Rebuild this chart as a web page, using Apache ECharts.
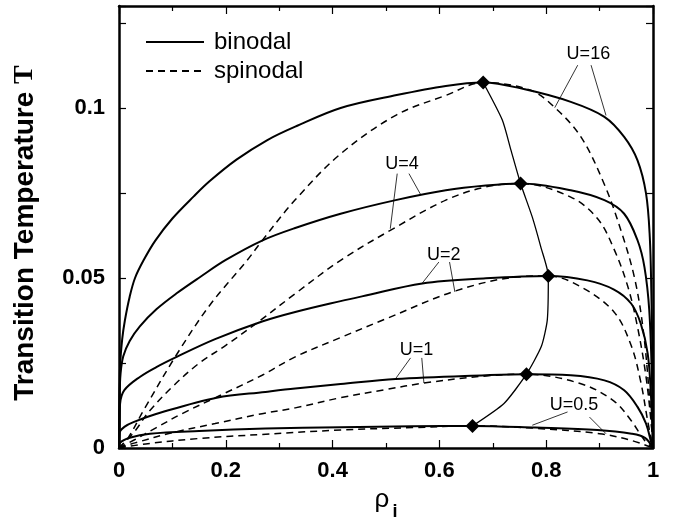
<!DOCTYPE html>
<html>
<head>
<meta charset="utf-8">
<title>Transition temperature</title>
<script src="https://cdn.jsdelivr.net/npm/echarts@6.0.0/dist/echarts.min.js"></script>
<style>
    html, body { margin: 0; padding: 0; background: #fff; }
    #chart { width: 673px; height: 520px; }
</style>
</head>
<body>
<div id="chart"></div>
<script>
// points are [rho_i, T]
var binodal16 = [[0, 0], [0.0008, 0.012], [0.002, 0.024], [0.006, 0.032], [0.011, 0.0375], [0.02, 0.0445],
    [0.03, 0.05], [0.046, 0.0552], [0.068, 0.061], [0.1, 0.0675], [0.14, 0.074], [0.17, 0.0785], [0.22, 0.0848],
    [0.277, 0.0905], [0.33, 0.0945], [0.415, 0.1], [0.52, 0.1038], [0.612, 0.1065], [0.682, 0.1075],
    [0.76, 0.1055], [0.846, 0.1018], [0.909, 0.0974], [0.946, 0.0915], [0.971, 0.0846], [0.987, 0.0748],
    [0.994, 0.062], [0.997, 0.045], [0.999, 0.025], [1, 0]];
var binodal4 = [[0, 0], [0.001, 0.015], [0.003, 0.022], [0.008, 0.027], [0.02, 0.0315], [0.039, 0.0358],
    [0.07, 0.0408], [0.108, 0.0455], [0.152, 0.0503], [0.2, 0.0553], [0.268, 0.061], [0.33, 0.0647],
    [0.415, 0.0689], [0.518, 0.0729], [0.612, 0.0758], [0.687, 0.0772], [0.752, 0.0778], [0.846, 0.0758],
    [0.909, 0.0729], [0.946, 0.0689], [0.971, 0.0611], [0.984, 0.0532], [0.993, 0.0405], [0.998, 0.02], [1, 0]];
var binodal2 = [[0, 0], [0.0008, 0.007], [0.002, 0.013], [0.01, 0.017], [0.039, 0.0209], [0.07, 0.0238],
    [0.108, 0.0268], [0.18, 0.032], [0.268, 0.0372], [0.33, 0.04], [0.415, 0.0432], [0.455, 0.0446],
    [0.568, 0.0484], [0.687, 0.0499], [0.804, 0.0506], [0.877, 0.0493], [0.927, 0.0466], [0.959, 0.0425],
    [0.977, 0.0366], [0.99, 0.0278], [0.996, 0.016], [1, 0]];
var binodal1 = [[0, 0], [0.001, 0.0045], [0.01, 0.0062], [0.027, 0.0076], [0.08, 0.0105], [0.183, 0.0148],
    [0.274, 0.0165], [0.33, 0.0175], [0.415, 0.0188], [0.518, 0.0203], [0.687, 0.0214], [0.763, 0.0217],
    [0.846, 0.0214], [0.909, 0.0199], [0.946, 0.017], [0.971, 0.0121], [0.987, 0.0072], [0.996, 0.002], [1, 0]];
var binodal05 = [[0, 0], [0.002, 0.0015], [0.02, 0.003], [0.058, 0.0042], [0.15, 0.005], [0.274, 0.0057],
    [0.415, 0.0061], [0.55, 0.0064], [0.662, 0.0065], [0.78, 0.006], [0.896, 0.0053], [0.96, 0.0042],
    [0.985, 0.003], [1, 0]];

var spinodal16 = [[0, 0], [0.018, 0.0032], [0.046, 0.0111], [0.108, 0.0275], [0.17, 0.042], [0.24, 0.0552],
    [0.268, 0.061], [0.33, 0.073], [0.415, 0.0865], [0.52, 0.098], [0.612, 0.1037], [0.682, 0.1075],
    [0.771, 0.1052], [0.815, 0.1003], [0.865, 0.0915], [0.909, 0.0775], [0.94, 0.064], [0.965, 0.0503],
    [0.981, 0.0356], [0.993, 0.016], [1, 0]];
var spinodal4 = [[0, 0], [0.03, 0.005], [0.055, 0.0105], [0.1, 0.018], [0.149, 0.0248], [0.2, 0.0302],
    [0.261, 0.0371], [0.33, 0.0454], [0.415, 0.0552], [0.508, 0.064], [0.612, 0.0729], [0.687, 0.0768],
    [0.752, 0.0778], [0.846, 0.0738], [0.896, 0.0675], [0.927, 0.0585], [0.953, 0.0474], [0.971, 0.0356],
    [0.987, 0.0209], [0.998, 0.005], [1, 0]];
var spinodal2 = [[0, 0], [0.03, 0.0025], [0.07, 0.006], [0.118, 0.0101], [0.19, 0.0155], [0.268, 0.0214],
    [0.33, 0.0268], [0.415, 0.0325], [0.5, 0.038], [0.63, 0.0462], [0.746, 0.0503], [0.804, 0.0506],
    [0.865, 0.0474], [0.927, 0.04], [0.959, 0.0302], [0.977, 0.0195], [0.99, 0.008], [1, 0]];
var spinodal1 = [[0, 0], [0.03, 0.0015], [0.1, 0.0045], [0.18, 0.0072], [0.268, 0.0101], [0.33, 0.0118],
    [0.415, 0.0148], [0.5, 0.0172], [0.571, 0.0191], [0.687, 0.0212], [0.763, 0.0217], [0.865, 0.0189],
    [0.927, 0.0138], [0.959, 0.0081], [0.984, 0.0023], [1, 0]];
var spinodal05 = [[0, 0], [0.05, 0.0012], [0.15, 0.0028], [0.268, 0.004], [0.415, 0.0053], [0.55, 0.006],
    [0.662, 0.0065], [0.78, 0.0058], [0.9, 0.0042], [0.96, 0.0022], [1, 0]];

// line through the critical points
var criticalLine = [[0.662, 0.0065], [0.721, 0.0131], [0.763, 0.0217], [0.791, 0.0299], [0.802, 0.0376],
    [0.804, 0.0506], [0.79, 0.0591], [0.774, 0.0679], [0.752, 0.0778], [0.734, 0.0876], [0.718, 0.0964],
    [0.682, 0.1075]];
var criticalPoints = [[0.682, 0.1075], [0.752, 0.0778], [0.804, 0.0506], [0.763, 0.0217], [0.662, 0.0065]];

var labelNames = ['U=16', 'U=4', 'U=2', 'U=1', 'U=0.5'];
var labelPos = [[0.879, 0.116], [0.53, 0.0836], [0.608, 0.0567], [0.557, 0.0287], [0.852, 0.0126]];
var pointerLines = [
    [[0.859, 0.1126], [0.816, 0.1001]], [[0.884, 0.1126], [0.912, 0.0978]],
    [[0.521, 0.0807], [0.508, 0.0645]], [[0.543, 0.0807], [0.565, 0.0745]],
    [[0.599, 0.0547], [0.568, 0.0485]], [[0.619, 0.0547], [0.629, 0.0459]],
    [[0.546, 0.0265], [0.518, 0.0204]], [[0.567, 0.0265], [0.571, 0.0191]],
    [[0.84, 0.0106], [0.774, 0.0067]], [[0.881, 0.0091], [0.912, 0.0042]]
];

var sansFont = 'Liberation Sans, Arial, sans-serif';

function curve(name, data, dashed) {
    return {
        name: name,
        type: 'line',
        data: data,
        symbol: 'none',
        smooth: 0.35,
        silent: true,
        lineStyle: {color: '#000', width: dashed ? 1.5 : 2, type: dashed ? [7, 5] : 'solid'},
        itemStyle: {color: '#000'},
        z: dashed ? 2 : 3
    };
}

function isMajorY(value) {
    var k = value / 0.05;
    return Math.abs(k - Math.round(k)) < 1e-6;
}

var series = [
    curve('binodal', binodal16, false), curve('binodal', binodal4, false), curve('binodal', binodal2, false),
    curve('binodal', binodal1, false), curve('binodal', binodal05, false),
    curve('spinodal', spinodal16, true), curve('spinodal', spinodal4, true), curve('spinodal', spinodal2, true),
    curve('spinodal', spinodal1, true), curve('spinodal', spinodal05, true)
];

series.push({
    type: 'line',
    data: criticalLine,
    symbol: 'none',
    smooth: 0.2,
    silent: true,
    lineStyle: {color: '#000', width: 1.3},
    z: 4
});
series.push({
    type: 'scatter',
    data: criticalPoints,
    symbol: 'diamond',
    symbolSize: 14,
    silent: true,
    itemStyle: {color: '#000', opacity: 1},
    z: 5
});

pointerLines.forEach(function (seg) {
    series.push({
        type: 'line',
        data: seg,
        symbol: 'none',
        silent: true,
        lineStyle: {color: '#000', width: 0.8},
        z: 4
    });
});

series.push({
    type: 'scatter',
    data: labelPos.map(function (p, i) { return {name: labelNames[i], value: p}; }),
    symbolSize: 1,
    itemStyle: {color: '#fff', opacity: 1},
    silent: true,
    label: {
        show: true,
        position: 'inside',
        formatter: '{b}',
        color: '#000',
        textBorderWidth: 0,
        fontSize: 18,
        fontFamily: sansFont
    },
    z: 6
});

var tickLabel = {color: '#000', fontSize: 22, fontWeight: 'bold', fontFamily: sansFont};
var frameLine = {show: true, onZero: false, lineStyle: {color: '#000', width: 2.5}};

var option = {
    animation: false,
    backgroundColor: '#fff',
    grid: {left: 119, right: 20, top: 6, bottom: 72, containLabel: false, outerBoundsMode: 'none'},
    legend: {
        orient: 'vertical',
        left: 145,
        top: 29,
        padding: 0,
        itemWidth: 58,
        itemHeight: 14,
        itemGap: 3,
        data: ['binodal', 'spinodal'],
        itemStyle: {opacity: 0},
        textStyle: {color: '#000', fontSize: 24, fontFamily: sansFont, lineHeight: 26, padding: [0, 0, 0, 5]}
    },
    xAxis: [{
        type: 'value', min: 0, max: 1, interval: 0.2,
        axisLine: frameLine,
        axisTick: {inside: true, length: 8, lineStyle: {color: '#000', width: 1.2}},
        minorTick: {show: true, splitNumber: 2, length: 5, lineStyle: {color: '#000', width: 1.2}},
        splitLine: {show: false},
        axisLabel: Object.assign({margin: 12}, tickLabel),
        name: 'ρ{i|i}',
        nameLocation: 'middle',
        nameGap: 30,
        nameTextStyle: {
            color: '#000', fontSize: 26, fontFamily: sansFont,
            rich: {i: {fontSize: 18, fontWeight: 'bold', fontFamily: sansFont, padding: [24, 0, 0, 3]}}
        }
    }, {
        type: 'value', min: 0, max: 1, interval: 0.2, position: 'top',
        axisLine: frameLine,
        axisTick: {inside: true, length: 8, lineStyle: {color: '#000', width: 1.2}},
        minorTick: {show: true, splitNumber: 2, length: 5, lineStyle: {color: '#000', width: 1.2}},
        splitLine: {show: false},
        axisLabel: {show: false}
    }],
    yAxis: [{
        type: 'value', min: 0, max: 0.13, interval: 0.025,
        axisLine: frameLine,
        axisTick: {inside: true, length: 7, lineStyle: {color: '#000', width: 1.2}},
        splitLine: {show: false},
        axisLabel: Object.assign({
            margin: 14,
            formatter: function (v) { return isMajorY(v) ? String(+v.toFixed(3)) : ''; }
        }, tickLabel),
        name: 'Transition Temperature {t|T}',
        nameLocation: 'middle',
        nameGap: 80,
        nameTextStyle: {
            color: '#000', fontSize: 28, fontWeight: 'bold', fontFamily: sansFont,
            padding: [0, 12, 0, 0],
            rich: {t: {fontSize: 28, fontFamily: 'Liberation Serif, serif'}}
        }
    }, {
        type: 'value', min: 0, max: 0.13, interval: 0.025, position: 'right',
        axisLine: frameLine,
        axisTick: {inside: true, length: 7, lineStyle: {color: '#000', width: 1.2}},
        splitLine: {show: false},
        axisLabel: {show: false}
    }],
    series: series
};

var myChart = echarts.init(document.getElementById('chart'));
myChart.setOption(option);
</script>
</body>
</html>
